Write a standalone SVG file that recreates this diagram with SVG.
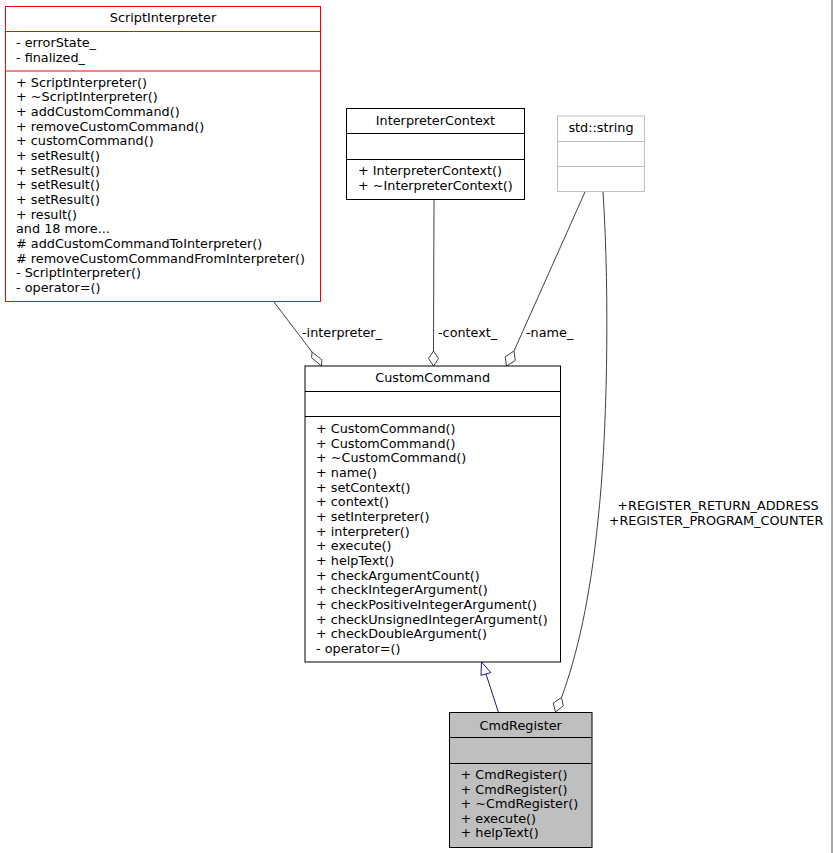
<svg xmlns="http://www.w3.org/2000/svg" width="833" height="853" viewBox="0 0 833 853">
<style>
text{font-family:"DejaVu Sans","Liberation Sans",sans-serif;font-size:12.8px;fill:#000}
.t{text-anchor:middle}
.box{fill:#fff;stroke:#000;stroke-width:1}
.red{fill:#fff;stroke:#ff0000;stroke-width:1}
.grey{fill:#fff;stroke:#bfbfbf;stroke-width:1}
.cur{fill:#bfbfbf;stroke:#000;stroke-width:1}
.e{fill:none;stroke:#404040;stroke-width:1}
.d{fill:#fff;stroke:#404040;stroke-width:1}
.inh{fill:none;stroke:#191970;stroke-width:1}
.tri{fill:#fff;stroke:#191970;stroke-width:1}
</style>
<rect width="833" height="853" fill="#ffffff"/>
<rect x="831" y="0" width="2" height="853" fill="#a8a8a8"/>

<g id="edges">
  <path class="e" d="M274,302 L312,352"/>
  <polygon class="d" points="321.5,366 311.6,357.8 312,352 321.9,359.8"/>
  <text x="302" y="337">-interpreter_</text>
  <path class="e" d="M434,199 L433.5,351"/>
  <polygon class="d" points="433.5,366 428.5,358.5 433.5,351 438.5,358.5"/>
  <text x="438" y="337">-context_</text>
  <path class="e" d="M585,192 L514,351"/>
  <polygon class="d" points="506.5,366 505.2,356.8 514,351 515.3,360.6"/>
  <text x="526" y="337">-name_</text>
  <path class="e" d="M603,192 C610,300 607,440 598,520 C590,600 577,655 561.5,697.5"/>
  <polygon class="d" points="555.5,712 553.3,703 561.5,697.5 563.3,705.8"/>
  <text class="t" x="718" y="510">+REGISTER_RETURN_ADDRESS</text>
  <text class="t" x="716" y="524.5">+REGISTER_PROGRAM_COUNTER</text>
  <path class="inh" d="M498.3,712 L486,674"/>
  <polygon class="tri" points="481.5,662 481,675.3 490.8,672.6"/>
</g>

<g id="ScriptInterpreter">
  <rect class="red" x="5.5" y="6.5" width="315" height="295"/>
  <line x1="5.5" y1="31.5" x2="320.5" y2="31.5" stroke="#ff0000"/>
  <line x1="5.5" y1="71" x2="320.5" y2="71" stroke="#ff0000"/>
  <text class="t" x="163" y="21.5">ScriptInterpreter</text>
  <text x="16" y="47">- errorState_</text>
  <text x="16" y="62">- finalized_</text>
  <text x="16" y="86.5">+ ScriptInterpreter()</text>
  <text x="16" y="101.2">+ ~ScriptInterpreter()</text>
  <text x="16" y="115.8">+ addCustomCommand()</text>
  <text x="16" y="130.5">+ removeCustomCommand()</text>
  <text x="16" y="145.2">+ customCommand()</text>
  <text x="16" y="159.8">+ setResult()</text>
  <text x="16" y="174.5">+ setResult()</text>
  <text x="16" y="189.2">+ setResult()</text>
  <text x="16" y="203.8">+ setResult()</text>
  <text x="16" y="218.5">+ result()</text>
  <text x="16" y="233.2">and 18 more...</text>
  <text x="16" y="247.8"># addCustomCommandToInterpreter()</text>
  <text x="16" y="262.5"># removeCustomCommandFromInterpreter()</text>
  <text x="16" y="277.2">- ScriptInterpreter()</text>
  <text x="16" y="291.8">- operator=()</text>
</g>

<g id="InterpreterContext">
  <rect class="box" x="346.5" y="108.5" width="178" height="91"/>
  <line x1="346.5" y1="133.5" x2="524.5" y2="133.5" stroke="#000"/>
  <line x1="346.5" y1="159.5" x2="524.5" y2="159.5" stroke="#000"/>
  <text class="t" x="435.5" y="125">InterpreterContext</text>
  <text x="358" y="175">+ InterpreterContext()</text>
  <text x="358" y="190">+ ~InterpreterContext()</text>
</g>

<g id="std_string">
  <rect class="grey" x="557.5" y="116" width="87" height="75.5"/>
  <line x1="557.5" y1="141.5" x2="644.5" y2="141.5" stroke="#bfbfbf"/>
  <line x1="557.5" y1="166.5" x2="644.5" y2="166.5" stroke="#bfbfbf"/>
  <text class="t" x="601" y="132">std::string</text>
</g>

<g id="CustomCommand">
  <rect class="box" x="305" y="366" width="255.5" height="296"/>
  <line x1="305" y1="391.5" x2="560.5" y2="391.5" stroke="#000"/>
  <line x1="305" y1="416.5" x2="560.5" y2="416.5" stroke="#000"/>
  <text class="t" x="432.7" y="381.5">CustomCommand</text>
  <text x="316" y="433">+ CustomCommand()</text>
  <text x="316" y="447.7">+ CustomCommand()</text>
  <text x="316" y="462.3">+ ~CustomCommand()</text>
  <text x="316" y="477">+ name()</text>
  <text x="316" y="491.7">+ setContext()</text>
  <text x="316" y="506.3">+ context()</text>
  <text x="316" y="521">+ setInterpreter()</text>
  <text x="316" y="535.7">+ interpreter()</text>
  <text x="316" y="550.3">+ execute()</text>
  <text x="316" y="565">+ helpText()</text>
  <text x="316" y="579.7">+ checkArgumentCount()</text>
  <text x="316" y="594.3">+ checkIntegerArgument()</text>
  <text x="316" y="609">+ checkPositiveIntegerArgument()</text>
  <text x="316" y="623.7">+ checkUnsignedIntegerArgument()</text>
  <text x="316" y="638.3">+ checkDoubleArgument()</text>
  <text x="316" y="653">- operator=()</text>
</g>

<g id="CmdRegister">
  <rect class="cur" x="449.5" y="712.5" width="142.5" height="135"/>
  <line x1="449.5" y1="737.5" x2="592" y2="737.5" stroke="#000"/>
  <line x1="449.5" y1="763.5" x2="592" y2="763.5" stroke="#000"/>
  <text class="t" x="520.7" y="729.5">CmdRegister</text>
  <text x="460.5" y="779">+ CmdRegister()</text>
  <text x="460.5" y="793.5">+ CmdRegister()</text>
  <text x="460.5" y="808">+ ~CmdRegister()</text>
  <text x="460.5" y="822.5">+ execute()</text>
  <text x="460.5" y="837">+ helpText()</text>
</g>
</svg>
